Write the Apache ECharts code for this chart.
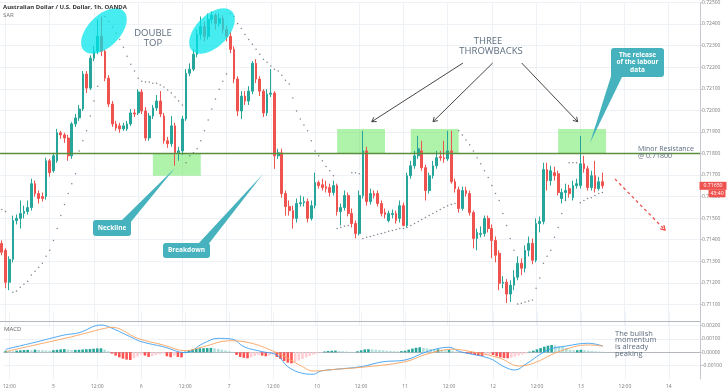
<!DOCTYPE html>
<html>
<head>
<meta charset="utf-8">
<script src="https://cdn.jsdelivr.net/npm/echarts@6/dist/echarts.min.js"></script>
<style>html,body{margin:0;padding:0;background:#ffffff;}#chart{width:728px;height:391px;}</style>
</head>
<body>
<div id="chart"></div>
<script>
// ---------------- data (prices in 1e-5 units) ----------------
const UNIT = 0.00001;
const dayLabels = ['4','5','6','7','10','11','12','13','14'];
const firstHour = 11;
const slotCount = 190;

const openP = [71383,71351,71203,71309,71489,71499,71522,71531,71549,71660,
71614,71600,71600,71766,71720,71766,71896,71886,71872,71789,
71937,71965,72006,72168,72103,72242,72274,72343,72274,72149,
72029,71937,71928,71914,71914,71937,71988,71988,72085,71997,
71872,71974,72011,72043,71974,71859,71845,71928,71803,71812,
71960,72172,72191,72260,72352,72389,72343,72422,72440,72403,
72426,72375,72343,72283,72145,71997,72066,72043,72089,72218,
72145,72089,71988,72075,72080,71789,71803,71614,71554,71535,
71499,71568,71572,71577,71499,71558,71665,71655,71646,71642,
71619,71651,71531,71549,71605,71522,71475,71429,71605,71812,
71577,71614,71614,71568,71526,71489,71517,71522,71499,71558,
71466,71697,71743,71789,71812,71734,71628,71697,71743,71785,
71780,71775,71812,71669,71632,71545,71628,71614,71526,71406,
71425,71429,71499,71452,71397,71337,71198,71203,71148,71189,
71226,71291,71268,71351,71383,71305,71475,71485,71725,71674,
71711,71706,71591,71619,71637,71595,71651,71651,71752,71729,
71642,71697,71637,71669];
const closeP = [71342,71203,71309,71489,71499,71522,71531,71549,71660,71614,
71591,71591,71766,71711,71789,71896,71886,71872,71789,71937,
71965,72006,72168,72103,72242,72274,72343,72274,72149,72029,
71937,71918,71914,71928,71937,71988,71983,72085,71997,71872,
71974,72011,72043,71983,71859,71845,71928,71803,71812,71960,
72172,72191,72260,72352,72389,72343,72422,72440,72403,72426,
72375,72343,72283,72145,71997,72066,72043,72089,72218,72145,
72089,71988,72075,72080,71789,71803,71614,71554,71535,71499,
71568,71572,71577,71499,71558,71665,71651,71642,71637,71619,
71651,71531,71549,71605,71522,71475,71429,71605,71812,71577,
71614,71605,71568,71522,71517,71522,71522,71489,71558,71466,
71697,71743,71789,71822,71734,71628,71697,71743,71780,71780,
71775,71812,71669,71637,71545,71628,71614,71526,71406,71434,
71429,71499,71452,71397,71328,71198,71203,71148,71189,71226,
71291,71268,71351,71383,71305,71475,71485,71725,71674,71720,
71697,71619,71619,71628,71614,71651,71660,71752,71729,71642,
71697,71637,71669,71650];
const lowP = [71328,71175,71166,71295,71471,71452,71499,71517,71535,71600,
71568,71577,71586,71692,71711,71757,71868,71849,71766,71775,
71923,71951,71997,72080,72094,72228,72260,72251,72135,72015,
71923,71905,71896,71905,71905,71928,71969,71978,71983,71859,
71859,71960,71997,71969,71845,71826,71831,71743,71766,71794,
71951,72158,72182,72246,72329,72320,72329,72403,72375,72389,
72357,72320,72265,72126,71974,71960,72025,72025,72075,72126,
72066,71969,71974,72062,71729,71775,71595,71512,71512,71452,
71480,71554,71554,71480,71489,71545,71637,71628,71619,71600,
71605,71512,71466,71535,71508,71457,71406,71420,71591,71558,
71563,71591,71554,71508,71499,71480,71499,71475,71480,71462,
71457,71683,71729,71775,71720,71582,71614,71683,71729,71766,
71757,71766,71660,71619,71526,71535,71600,71512,71360,71351,
71411,71415,71434,71314,71295,71166,71175,71106,71111,71166,
71212,71236,71249,71323,71286,71295,71434,71471,71628,71651,
71674,71605,71568,71582,71595,71582,71637,71637,71711,71628,
71628,71619,71628,71637];
const highP = [71397,71360,71323,71512,71517,71582,71558,71582,71683,71674,
71628,71619,71780,71775,71803,71914,71905,71896,71886,71946,
71983,72025,72182,72182,72255,72297,72422,72435,72283,72163,
72043,71951,71942,71942,71951,72006,72006,72098,72098,72015,
71988,72025,72071,72089,71988,71877,71974,71942,71831,71974,
72191,72218,72283,72375,72435,72412,72449,72458,72449,72449,
72440,72394,72366,72297,72158,72089,72089,72112,72228,72237,
72158,72098,72098,72191,72089,71822,71822,71628,71582,71558,
71591,71605,71600,71591,71582,71711,71674,71683,71674,71660,
71674,71660,71568,71628,71619,71545,71489,71628,71905,71831,
71637,71628,71628,71582,71545,71535,71540,71535,71582,71572,
71711,71766,71812,71882,71859,71748,71711,71766,71812,71812,
71859,71905,71905,71683,71646,71646,71646,71628,71535,71452,
71462,71512,71512,71471,71415,71351,71231,71217,71212,71259,
71323,71314,71374,71415,71406,71499,71508,71757,71757,71743,
71739,71720,71637,71660,71655,71674,71683,71882,71789,71743,
71720,71766,71692,71711];

const sarPts = [[0,71540],[1,71531],
[3,71157],[4,71162],[5,71180],[6,71194],[7,71208],[8,71236],[9,71254],[10,71272],[11,71291],[12,71323],[13,71351],[14,71397],[15,71452],[16,71512],[17,71563],[18,71614],[19,71660],[20,71706],[21,71812],[22,71859],[23,71905],[24,71974],[25,72043],[26,72112],
[28,72435],[29,72412],[30,72385],[31,72357],[32,72329],[33,72292],[34,72251],[35,72214],[36,72182],[37,72149],[38,72135],[39,72131],[40,72131],[41,72126],[42,72126],[43,72117],[44,72108],[45,72094],[46,72080],[47,72062],[48,72043],[49,72025],
[50,71757],[51,71789],[52,71803],[53,71822],[54,71859],[55,71905],[56,71955],[57,72006],[58,72052],[59,72098],[60,72135],[61,72168],
[62,72449],[63,72435],[64,72403],[65,72380],[66,72352],[67,72329],[68,72306],[69,72283],[70,72260],[71,72237],[72,72223],[73,72205],[74,72191],[75,72182],[76,72163],[77,72140],[78,72122],[79,72057],[80,71997],[81,71960],[82,71932],[83,71905],[84,71859],[85,71812],[86,71789],[87,71766],[88,71739],[89,71720],[90,71697],
[91,71452],[92,71457],[93,71462],[94,71466],
[95,71711],[96,71711],[97,71706],
[98,71406],[99,71411],[100,71415],[101,71420],[102,71425],[103,71429],[104,71434],[105,71439],[106,71443],[107,71448],[108,71452],[109,71452],[110,71457],[111,71466],[112,71475],[113,71485],[114,71494],[115,71503],[116,71512],[117,71522],[118,71531],[119,71540],[120,71549],[121,71558],[122,71563],[123,71568],
[124,71905],[125,71886],[126,71863],[127,71840],[128,71812],[129,71780],[130,71752],[131,71720],[132,71688],[133,71651],[134,71614],[135,71582],[136,71522],[137,71466],[138,71406],[139,71351],
[140,71102],[141,71106],[142,71111],[143,71116],[144,71120],[145,71175],[146,71222],[147,71291],[148,71323],[149,71351],[150,71411],[151,71457],[152,71522],[153,71582],
[154,71757],[155,71757],[156,71757],
[157,71572],[158,71582],[159,71591],[160,71595],[161,71605],[162,71614],[163,71619]];

const macdPts = [[0,23],[8,75],[16,130],[20,147],[26,205],[28,193],[34,117],[37,80],[43,42],[49,-3],[54,68],[58,105],[62,98],[65,42],[70,5],[74,-20],[77,-108],[81,-158],[84,-165],[86,-141],[90,-128],[97,-108],[103,-71],[109,-58],[115,5],[121,38],[124,5],[132,-45],[136,-108],[139,-133],[142,-88],[148,17],[153,47],[159,68],[163,47]];
const signalPts = [[0,5],[8,55],[18,117],[27,180],[29,188],[36,105],[43,55],[49,12],[54,42],[61,87],[65,80],[74,-3],[81,-108],[84,-141],[90,-128],[97,-113],[109,-71],[115,-13],[122,23],[127,5],[135,-45],[140,-103],[144,-83],[151,5],[159,55],[163,47]];
const histP = [12,10,8,12,15,17,18,15,20,18,
16,14,12,16,19,22,24,20,17,18,
19,21,23,25,27,29,30,20,8,-10,
-25,-38,-48,-55,-58,-45,-30,-18,-25,-35,
-28,-20,-14,-9,-30,-37,-25,-35,-38,5,
15,22,27,30,31,32,33,30,26,20,
14,8,3,-20,-35,-42,-45,-38,-28,-20,
-25,-30,-24,-18,-35,-50,-65,-78,-83,-75,
-62,-50,-38,-27,-18,-10,-3,6,10,12,
13,10,8,6,4,3,8,15,22,23,
22,20,17,15,12,10,8,7,9,12,
20,28,34,38,34,30,25,20,22,18,
15,17,12,7,3,-5,-9,-12,-20,-25,
-28,-22,-16,-20,-30,-38,-43,-45,-40,-32,
-24,-16,-8,5,12,22,32,42,50,55,
52,46,40,33,20,14,16,19,16,13,
10,8,6,4];

const resistance = 0.718;
// [fromIndex, toIndex, topPrice, bottomPrice]
const greenBoxes = [[41,54,0.71800,0.71697],[91,104,0.71914,0.71800],[111,124,0.71914,0.71800],[151,164,0.71914,0.71800]];
const countdown = '43:40';

// ---------------- build ----------------
const slots = [];
dayLabels.forEach((d, k) => { for (let h = (k === 0 ? firstHour : 0); h < 24; h++) slots.push({d, h}); });
slots.length = slotCount;
const categories = slots.map(s => s.d + ' ' + String(s.h).padStart(2, '0') + ':00');
const isTick = i => slots[i] && (slots[i].h === 0 || slots[i].h === 12);
const tickText = i => slots[i].h === 0 ? slots[i].d : '12:00';

const candles = openP.map((o, i) => [o * UNIT, closeP[i] * UNIT, lowP[i] * UNIT, highP[i] * UNIT]);
const sar = sarPts.map(p => [p[0], p[1] * UNIT]);
const macd = macdPts.map(p => [p[0], p[1] * UNIT]);
const signal = signalPts.map(p => [p[0], p[1] * UNIT]);
const hist = histP.map((v, i) => {
  const prev = i > 0 ? histP[i - 1] : v;
  let c;
  if (v >= 0) c = v >= prev ? '#26a69a' : '#b2dfdb';
  else c = v <= prev ? '#ff5252' : '#ffcdd2';
  return {value: v * UNIT, itemStyle: {color: c}};
});
const lastClose = closeP[closeP.length - 1] * UNIT;

const FONT = '"Open Sans", "DejaVu Sans", sans-serif';
const GRID_C = '#eef1f6';
const AXIS_C = '#c5c8ce';

const chart = echarts.init(document.getElementById('chart'), null, {renderer: 'canvas'});
const xCommon = (gi, showLabel) => ({
  type: 'category', gridIndex: gi, data: categories, boundaryGap: true,
  axisLine: {show: showLabel, lineStyle: {color: '#b4b7be'}},
  axisTick: {show: false},
  axisLabel: {show: showLabel, interval: (i) => isTick(i), formatter: (v, i) => tickText(i),
    fontSize: 5, color: '#7a7a7a', margin: 5, fontFamily: FONT},
  splitLine: {show: true, interval: (i) => isTick(i), alignWithLabel: true, lineStyle: {color: GRID_C, width: 1}}
});

const option = {
  animation: false,
  backgroundColor: '#ffffff',
  grid: [
    {left: 0, right: 28, top: 1, height: 325},
    {left: 0, right: 28, top: 312.4, height: 66.5}
  ],
  xAxis: [xCommon(0, false), xCommon(1, true)],
  yAxis: [
    {type: 'value', gridIndex: 0, position: 'right', min: 0.710, max: 0.725, interval: 0.001,
      axisLine: {show: true, lineStyle: {color: AXIS_C}},
      axisTick: {show: true, length: 2, lineStyle: {color: AXIS_C}},
      axisLabel: {fontSize: 5, color: '#7a7a7a', margin: 2, fontFamily: FONT, formatter: v => v.toFixed(5), showMinLabel: false},
      splitLine: {lineStyle: {color: GRID_C}, showMinLine: false}},
    {type: 'value', gridIndex: 1, position: 'right', min: -0.002, max: 0.003, interval: 0.001,
      axisLine: {show: true, lineStyle: {color: AXIS_C}},
      axisTick: {show: true, length: 2, lineStyle: {color: AXIS_C}},
      axisLabel: {fontSize: 5, color: '#7a7a7a', margin: 2, fontFamily: FONT, formatter: v => v.toFixed(5), showMinLabel: false, showMaxLabel: false},
      splitLine: {lineStyle: {color: GRID_C}, showMinLine: false, showMaxLine: false}}
  ],
  series: [
    {type: 'candlestick', xAxisIndex: 0, yAxisIndex: 0, data: candles, barWidth: 2.2, z: 2,
      itemStyle: {color: '#26a69a', color0: '#ef5350', borderColor: '#26a69a', borderColor0: '#ef5350', borderWidth: 1}},
    {type: 'scatter', xAxisIndex: 0, yAxisIndex: 0, data: sar, symbolSize: 1.5, z: 3,
      itemStyle: {color: '#5f6368'}, silent: true,
      markArea: {silent: true, itemStyle: {color: 'rgba(110,232,100,0.55)'},
        data: greenBoxes.map(b => [{xAxis: categories[b[0]], yAxis: b[2]}, {xAxis: categories[b[1]], yAxis: b[3]}])},
      markLine: {silent: true, symbol: 'none', precision: 6, label: {show: false},
        lineStyle: {color: '#5a8f3e', width: 1.3, type: 'solid'}, data: [{yAxis: resistance}]}},
    {type: 'bar', xAxisIndex: 1, yAxisIndex: 1, data: hist, barWidth: 2.6, z: 2},
    {type: 'line', xAxisIndex: 1, yAxisIndex: 1, data: macd, smooth: 0.4, showSymbol: false, z: 3,
      lineStyle: {color: '#3d9ff0', width: 0.9}},
    {type: 'line', xAxisIndex: 1, yAxisIndex: 1, data: signal, smooth: 0.4, showSymbol: false, z: 3,
      lineStyle: {color: '#f7a25c', width: 0.9}}
  ]
};
chart.setOption(option);

// ---------------- annotations ----------------
const TEAL = '#45b2bd';
const NOTE_C = '#5d6d7e';
function head(x1, y1, x2, y2, len, spread) {
  const a = Math.atan2(y2 - y1, x2 - x1);
  return [[x2 - len * Math.cos(a - spread), y2 - len * Math.sin(a - spread)], [x2, y2],
          [x2 - len * Math.cos(a + spread), y2 - len * Math.sin(a + spread)]];
}
function arrow(x1, y1, x2, y2, color, dash, w) {
  return [
    {type: 'line', z: 120, shape: {x1, y1, x2, y2}, style: {stroke: color, lineWidth: w, lineDash: dash}},
    {type: 'polyline', z: 120, shape: {points: head(x1, y1, x2, y2, 5, 0.55)}, style: {stroke: color, lineWidth: w, fill: null}}
  ];
}
function txt(x, y, s, size, color, extra, z) {
  return {type: 'text', z: z || 130, x, y, style: Object.assign({text: s, fontSize: size, fill: color,
    fontFamily: FONT, textAlign: 'left', textVerticalAlign: 'middle'}, extra || {})};
}
function callout(rx, ry, rw, rh, pointer, lines, lh) {
  const els = [
    {type: 'polygon', z: 125, shape: {points: pointer}, style: {fill: TEAL}},
    {type: 'rect', z: 126, shape: {x: rx, y: ry, width: rw, height: rh, r: 3}, style: {fill: TEAL}}
  ];
  const cy0 = ry + rh / 2 - (lines.length - 1) * lh / 2;
  lines.forEach((l, k) => els.push(txt(rx + rw / 2, cy0 + k * lh, l, 6.5, '#ffffff', {textAlign: 'center', fontWeight: 'bold'})));
  return els;
}

const yLast = chart.convertToPixel({yAxisIndex: 0}, lastClose);
const els = [];
els.push({type: 'line', z: 110, shape: {x1: 0, y1: 321.5, x2: 700, y2: 321.5}, style: {stroke: '#b4b7be', lineWidth: 1}});
els.push({type: 'ellipse', z: 100, x: 104, y: 31, rotation: Math.PI / 4, shape: {cx: 0, cy: 0, rx: 28, ry: 16}, style: {fill: 'rgba(0,229,236,0.72)'}});
els.push({type: 'ellipse', z: 100, x: 212, y: 31, rotation: Math.PI / 4, shape: {cx: 0, cy: 0, rx: 28, ry: 16}, style: {fill: 'rgba(0,229,236,0.72)'}});
els.push(txt(3, 7, 'Australian Dollar / U.S. Dollar, 1h, OANDA', 6, '#333333', {fontWeight: 'bold'}));
els.push(txt(3, 15, 'SAR', 6, '#777777'));
els.push(txt(4, 329.5, 'MACD', 6, '#666666'));
els.push(txt(153, 33, 'DOUBLE', 9.5, NOTE_C, {textAlign: 'center'}));
els.push(txt(153, 43.5, 'TOP', 9.5, NOTE_C, {textAlign: 'center'}));
els.push(txt(488, 41.7, 'THREE', 9.5, NOTE_C, {textAlign: 'center'}));
els.push(txt(491, 51, 'THROWBACKS', 9.5, NOTE_C, {textAlign: 'center'}));
els.push(txt(638, 149, 'Minor Resistance', 7, NOTE_C));
els.push(txt(638, 156, '@ 0.71800', 7, NOTE_C));
['The bullish', 'momentum', 'is already', 'peaking'].forEach((s, k) => els.push(txt(615, 333.5 + k * 6.8, s, 7.5, NOTE_C)));
els.push(...arrow(463, 63, 371.7, 121.7, '#333333', null, 0.9));
els.push(...arrow(492.7, 63, 433, 121.7, '#333333', null, 0.9));
els.push(...arrow(521.7, 63, 577.7, 121.7, '#333333', null, 0.9));
els.push(...arrow(615, 179, 665, 230, '#ef5350', [3, 3], 1.3));
els.push(...callout(93, 220, 38, 16, [[121, 221], [130, 223], [175, 168]], ['Neckline'], 7));
els.push(...callout(163, 243, 47, 15, [[198, 244], [207, 246], [263, 174]], ['Breakdown'], 7));
els.push(...callout(611, 48, 53, 29, [[612, 73], [622, 77], [590, 143]], ['The release', 'of the labour', 'data'], 7.3));
// last price label
els.push({type: 'rect', z: 140, shape: {x: 699.5, y: yLast - 4, width: 27, height: 8}, style: {fill: '#ef5350'}});
els.push(txt(713, yLast, lastClose.toFixed(5), 5.2, '#ffffff', {textAlign: 'center'}, 145));
els.push({type: 'rect', z: 140, shape: {x: 708.5, y: yLast + 4, width: 17, height: 7.5}, style: {fill: '#ef5350'}});
els.push(txt(717, yLast + 7.8, countdown, 5.2, '#ffffff', {textAlign: 'center'}, 145));

chart.setOption({graphic: {elements: els}});
</script>
</body>
</html>
